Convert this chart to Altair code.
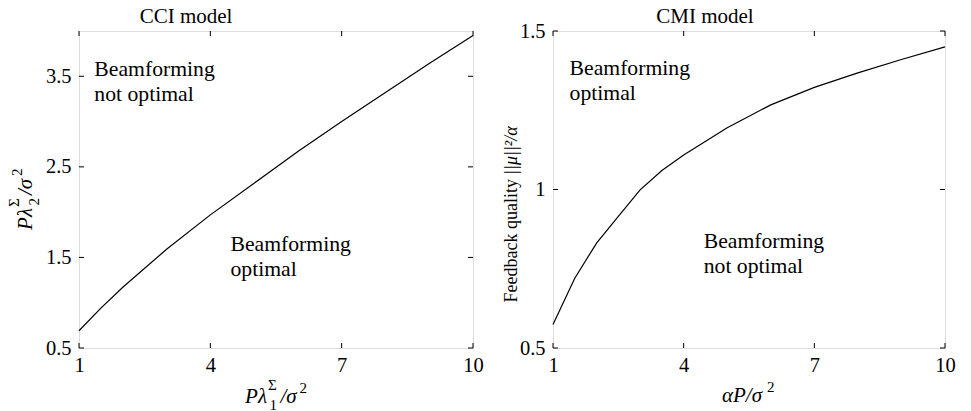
import altair as alt
import pandas as pd

# Boundary curves read at the sampled operating points
cci_x = [1, 1.5, 2, 3, 4, 5, 6, 7, 8, 9, 10]
cci_y = [0.69, 0.94, 1.17, 1.59, 1.97, 2.32, 2.67, 3.00, 3.32, 3.64, 3.95]

cmi_x = [1, 1.5, 2, 2.5, 3, 3.5, 4, 5, 6, 7, 8, 9, 10]
cmi_y = [0.574, 0.72, 0.831, 0.915, 0.999, 1.06, 1.109, 1.195, 1.267, 1.322, 1.368, 1.41, 1.45]

x_ticks = [1, 4, 7, 10]
cci_y_ticks = [0.5, 1.5, 2.5, 3.5]
cmi_y_ticks = [0.5, 1, 1.5]

# Region labels: (text, x, y)
cci_regions = [("Beamforming\nnot optimal", 1.35, 3.5), ("Beamforming\noptimal", 4.46, 1.575)]
cmi_regions = [("Beamforming\noptimal", 1.38, 1.361), ("Beamforming\nnot optimal", 4.46, 0.815)]

FONT = "Liberation Serif"
W1, W2, H = 394, 392, 317
TICK = 5


def piece(text, x, y, size=21, italic=False, angle=0, align="left"):
    """One fragment of a typeset label, placed in panel pixels."""
    kw = dict(font=FONT, fontSize=size, color="black", align=align,
              baseline="alphabetic", angle=angle)
    if italic:
        kw["fontStyle"] = "italic"
    return alt.Chart(pd.DataFrame({"t": [text]})).mark_text(**kw).encode(
        text="t:N", x=alt.value(x), y=alt.value(y)
    )


def panel(xs, ys, y_dom, y_ticks, regions, width, title, title_x, xlabel, ylabel):
    xs_scale = alt.Scale(domain=[1, 10], nice=False, zero=False)
    ys_scale = alt.Scale(domain=y_dom, nice=False, zero=False)
    common = dict(title=None, ticks=False, domain=False, grid=False,
                  labelFont=FONT, labelFontSize=20.5, labelColor="black",
                  labelFlush=False, labelOverlap=False,
                  labelExpr="'' + datum.value")
    x_axis = alt.Axis(values=x_ticks, labelPadding=7, **common)
    y_axis = alt.Axis(values=y_ticks, labelPadding=8, **common)

    curve = alt.Chart(pd.DataFrame({"x": xs, "y": ys})).mark_line(
        color="black", strokeWidth=1.2
    ).encode(
        x=alt.X("x:Q", scale=xs_scale, axis=x_axis),
        y=alt.Y("y:Q", scale=ys_scale, axis=y_axis),
    )

    xt = pd.DataFrame({"x": x_ticks})
    yt = pd.DataFrame({"y": y_ticks})
    tick_style = dict(color="black", strokeWidth=1)
    ticks = [
        alt.Chart(xt).mark_rule(**tick_style).encode(
            x=alt.X("x:Q", scale=xs_scale), y=alt.value(H), y2=alt.value(H - TICK)),
        alt.Chart(xt).mark_rule(**tick_style).encode(
            x=alt.X("x:Q", scale=xs_scale), y=alt.value(0), y2=alt.value(TICK)),
        alt.Chart(yt).mark_rule(**tick_style).encode(
            y=alt.Y("y:Q", scale=ys_scale), x=alt.value(0), x2=alt.value(TICK)),
        alt.Chart(yt).mark_rule(**tick_style).encode(
            y=alt.Y("y:Q", scale=ys_scale), x=alt.value(width), x2=alt.value(width - TICK)),
    ]

    reg = pd.DataFrame({"t": [r[0] for r in regions],
                        "x": [r[1] for r in regions],
                        "y": [r[2] for r in regions]})
    region_text = alt.Chart(reg).mark_text(
        font=FONT, fontSize=21.7, color="black", align="left",
        baseline="alphabetic", lineBreak="\n", lineHeight=25
    ).encode(
        x=alt.X("x:Q", scale=xs_scale),
        y=alt.Y("y:Q", scale=ys_scale),
        text="t:N",
    )

    head = piece(title, title_x, -8, size=21, align="center")

    layers = [curve] + ticks + [region_text, head] + xlabel + ylabel
    return alt.layer(*layers).properties(width=width, height=H)


# Axis captions assembled from upright, italic and script pieces
cci_xlabel = [
    piece("Pλ", 188, 372, italic=True, align="right"),
    piece("Σ", 189, 359, size=15),
    piece("1", 190.5, 378.5, size=15),
    piece("/σ", 201.5, 372, italic=True),
    piece("2", 220.5, 362, size=15),
]
cci_ylabel = [
    piece("Pλ", -47, 177, italic=True, angle=270, align="right"),
    piece("Σ", -60, 176, size=15, angle=270),
    piece("2", -40.5, 174.5, size=15, angle=270),
    piece("/σ", -47, 164, italic=True, angle=270),
    piece("2", -57, 145, size=15, angle=270),
]
cmi_xlabel = [
    piece("αP/σ", 169, 371, italic=True),
    piece("2", 214, 361, size=15),
]
# upright words end where the italic norm expression begins
cmi_ylabel = [
    piece("Feedback quality", -36, 148, size=18, angle=270, align="right"),
    piece("||μ||²/α", -36, 144, size=18, italic=True, angle=270),
]

left = panel(cci_x, cci_y, [0.5, 4.0], cci_y_ticks, cci_regions, W1,
             "CCI model", 107, cci_xlabel, cci_ylabel)
right = panel(cmi_x, cmi_y, [0.5, 1.5], cmi_y_ticks, cmi_regions, W2,
              "CMI model", 152, cmi_xlabel, cmi_ylabel)

chart = alt.hconcat(left, right, spacing=80, bounds="flush").properties(
    padding={"left": 6, "top": 5, "right": 5, "bottom": 0}
).configure_view(
    stroke="black", strokeWidth=1.3
).configure(background="white")

chart.save("out.html", embed_options={"renderer": "svg", "actions": False})
